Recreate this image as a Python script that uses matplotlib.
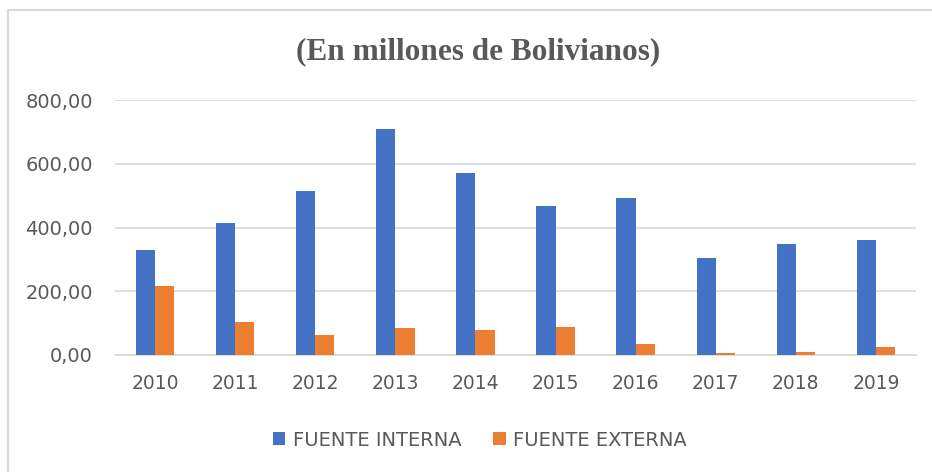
import numpy as np
import matplotlib
matplotlib.use("Agg")
import matplotlib.pyplot as plt
from matplotlib.patches import Rectangle
from matplotlib.ticker import FuncFormatter

years = ["2010", "2011", "2012", "2013", "2014", "2015", "2016", "2017", "2018", "2019"]
fuente_interna = [329, 413, 515, 708, 572, 467, 494, 303, 347, 362]
fuente_externa = [216, 105, 63, 85, 77, 87, 35, 5, 10, 25]

blue = "#4472C4"
orange = "#ED7D31"
gray_txt = "#595959"

W, H = 932, 472
fig = plt.figure(figsize=(W / 100, H / 100), dpi=100)

# outer chart border (right and bottom fall outside the picture)
fig.patches.append(Rectangle((8 / W, -0.5), 1.2, 0.5 + (H - 10) / H, transform=fig.transFigure,
                             fill=False, edgecolor="#D9D9D9", linewidth=1.5))

ax = fig.add_axes([115 / W, 1 - 355 / H, (916 - 115) / W, (355 - 100) / H])

x = np.arange(len(years))
bw = 0.24
ax.bar(x - bw / 2, fuente_interna, bw, color=blue, label="FUENTE INTERNA", zorder=3)
ax.bar(x + bw / 2, fuente_externa, bw, color=orange, label="FUENTE EXTERNA", zorder=3)

ax.set_xlim(-0.5, len(years) - 0.5)
ax.set_ylim(0, 800)
ax.set_yticks([0, 200, 400, 600, 800])
ax.yaxis.set_major_formatter(FuncFormatter(lambda v, p: f"{v:.2f}".replace(".", ",")))
ax.set_xticks(x)
ax.set_xticklabels(years)

ax.grid(axis="y", color="#D9D9D9", linewidth=1.2, zorder=0)
for s in ["top", "right", "left"]:
    ax.spines[s].set_visible(False)
ax.spines["bottom"].set_color("#D9D9D9")
ax.spines["bottom"].set_linewidth(1.2)
ax.tick_params(axis="both", length=0, labelcolor=gray_txt)
ax.tick_params(axis="y", pad=16, labelsize=14)
ax.tick_params(axis="x", pad=14, labelsize=13.5)

fig.text(478 / W, 1 - 52 / H, "(En millones de Bolivianos)", ha="center", va="center",
         fontsize=22.5, fontweight="bold", family="Liberation Serif", color=gray_txt)

leg = fig.legend(loc="center", bbox_to_anchor=(480 / W, 1 - 440 / H), ncol=2, frameon=False,
                 fontsize=14, handlelength=0.65, handleheight=0.65, columnspacing=1.6,
                 handletextpad=0.4)
for t in leg.get_texts():
    t.set_color(gray_txt)

fig.savefig("out.png", dpi=100)
